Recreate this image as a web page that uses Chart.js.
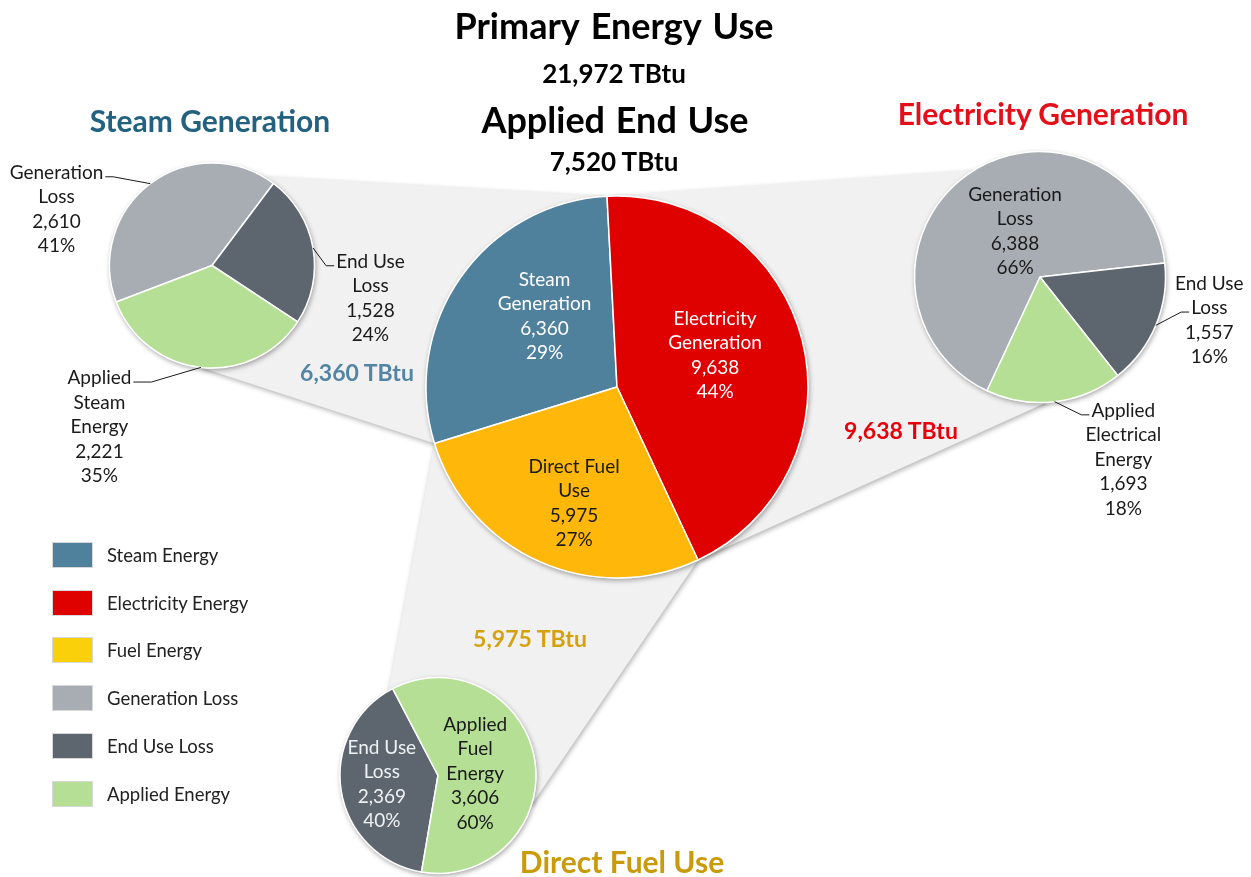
<!DOCTYPE html>
<html>
<head>
<meta charset="utf-8">
<script src="https://cdn.jsdelivr.net/npm/chart.js@4.4.1/dist/chart.umd.min.js"></script>
<style>
  html, body { margin: 0; padding: 0; background: #fff; }
  #wrap { position: relative; width: 1251px; height: 877px; overflow: hidden; font-family: Lato, 'Open Sans', sans-serif; }
  #wrap canvas { position: absolute; left: 0; top: 0; }
  .t { position: absolute; transform: translate(-50%, -50%); white-space: nowrap; font-weight: 700; line-height: 1; }
  #legend { position: absolute; left: 52px; top: 531px; }
  #legend .row { display: flex; align-items: center; height: 47.8px; }
  #legend .sw { width: 39px; height: 24px; border: 1px solid #d8d8d8; margin-right: 14px; }
  #legend .lb { font-size: 18.5px; color: #222; }
</style>
</head>
<body>
<div id="wrap">
  <canvas id="mainPie" width="1251" height="877"></canvas>
  <canvas id="steamPie" width="1251" height="877"></canvas>
  <canvas id="elecPie" width="1251" height="877"></canvas>
  <canvas id="fuelPie" width="1251" height="877"></canvas>

  <div class="t" style="left:614px; top:25px; font-size:36px; word-spacing:3px; color:#000;">Primary Energy Use</div>
  <div class="t" style="left:614px; top:73px; font-size:26px; color:#000;">21,972 TBtu</div>
  <div class="t" style="left:615px; top:119px; font-size:36px; word-spacing:2px; color:#000;">Applied End Use</div>
  <div class="t" style="left:614px; top:161px; font-size:26px; color:#000;">7,520 TBtu</div>

  <div class="t" style="left:210px; top:120px; font-size:30px; color:#22617f;">Steam Generation</div>
  <div class="t" style="left:1043px; top:113px; font-size:30px; color:#e3101a;">Electricity Generation</div>
  <div class="t" style="left:622px; top:861px; font-size:30px; color:#c99a0a;">Direct Fuel Use</div>

  <div class="t" id="steamTotal" style="left:357px; top:372px; font-size:23px; color:#5284a3;"></div>
  <div class="t" id="elecTotal" style="left:901px; top:430px; font-size:23px; color:#e8000b;"></div>
  <div class="t" id="fuelTotal" style="left:530px; top:638px; font-size:23px; color:#d4a20f;"></div>

  <div id="legend"></div>
</div>
<script>
const W = 1251, H = 877;

// Primary energy split (TBtu)
const mainLabels = [['Steam', 'Generation'], ['Electricity', 'Generation'], ['Direct Fuel', 'Use']];
const mainValues = [6360, 9638, 5975];

// Steam generation breakdown
const steamLabels = [['Generation', 'Loss'], ['End Use', 'Loss'], ['Applied', 'Steam', 'Energy']];
const steamValues = [2610, 1528, 2221];

// Electricity generation breakdown
const elecLabels = [['Generation', 'Loss'], ['End Use', 'Loss'], ['Applied', 'Electrical', 'Energy']];
const elecValues = [6388, 1557, 1693];

// Direct fuel breakdown
const fuelLabels = [['End Use', 'Loss'], ['Applied', 'Fuel', 'Energy']];
const fuelValues = [2369, 3606];

const legendLabels = ['Steam Energy', 'Electricity Energy', 'Fuel Energy', 'Generation Loss', 'End Use Loss', 'Applied Energy'];

const C = {
  steam: '#4f819d', elec: '#df0000', fuel: '#ffb70a', fuelLegend: '#fad00a',
  genLoss: '#a7adb3', endLoss: '#5d666e', applied: '#b4df94'
};
const legendColors = [C.steam, C.elec, C.fuelLegend, C.genLoss, C.endLoss, C.applied];

// pie placement (centre, radius, start rotation in degrees)
const geo = {
  main:  { cx: 617,  cy: 387,   r: 191,   rot: -107.2 },
  steam: { cx: 212,  cy: 265.5, r: 102.5, rot: -110.9 },
  elec:  { cx: 1040, cy: 277,   r: 125.5, rot: -155 },
  fuel:  { cx: 438,  cy: 775.5, r: 98,    rot: -170.3 }
};

// which small pie each main slice feeds, and where the band touches it (deg from top)
const links = [
  { to: 'steam', touch: [186.7, 29.4] },
  { to: 'elec',  touch: [-31.5, 176.8] },
  { to: 'fuel',  touch: [107.5, -30.4] }
];

const fmt = v => v.toLocaleString('en-US');
const rad = d => d * Math.PI / 180;

function onCircle(g, deg) {
  return [g.cx + g.r * Math.sin(rad(deg)), g.cy - g.r * Math.cos(rad(deg))];
}

// Grey bands from each main slice to its breakdown pie
const connectors = {
  id: 'connectors',
  beforeDatasetsDraw(chart) {
    const { ctx } = chart;
    const arcs = chart.getDatasetMeta(0).data;
    ctx.save();
    ctx.fillStyle = '#f1f1f1';
    ctx.shadowColor = 'rgba(0,0,0,0.3)';
    ctx.shadowBlur = 5;
    ctx.shadowOffsetX = 1;
    ctx.shadowOffsetY = 2;
    links.forEach((lk, i) => {
      const a = arcs[i];
      const g = geo[lk.to];
      const s = [a.x + a.outerRadius * Math.cos(a.startAngle), a.y + a.outerRadius * Math.sin(a.startAngle)];
      const e = [a.x + a.outerRadius * Math.cos(a.endAngle), a.y + a.outerRadius * Math.sin(a.endAngle)];
      const p1 = onCircle(g, lk.touch[0]);
      const p2 = onCircle(g, lk.touch[1]);
      ctx.beginPath();
      ctx.moveTo(s[0], s[1]);
      ctx.lineTo(p1[0], p1[1]);
      ctx.lineTo(p2[0], p2[1]);
      ctx.lineTo(e[0], e[1]);
      ctx.closePath();
      ctx.fill();
    });
    ctx.restore();
  }
};

// soft drop shadow under each pie
const pieShadow = {
  id: 'pieShadow',
  beforeDatasetsDraw(chart) {
    const { ctx } = chart;
    const a = chart.getDatasetMeta(0).data[0];
    ctx.save();
    ctx.beginPath();
    ctx.arc(a.x, a.y, a.outerRadius + 0.5, 0, Math.PI * 2);
    ctx.fillStyle = '#fff';
    ctx.shadowColor = 'rgba(0,0,0,0.35)';
    ctx.shadowBlur = 5;
    ctx.shadowOffsetX = 1;
    ctx.shadowOffsetY = 2;
    ctx.fill();
    ctx.restore();
  }
};

// name / value / percent labels, inside or outside with a leader line
const sliceLabels = {
  id: 'sliceLabels',
  afterDatasetsDraw(chart, args, opts) {
    const { ctx } = chart;
    const ds = chart.data.datasets[0];
    const total = ds.data.reduce((s, v) => s + v, 0);
    ctx.save();
    ctx.font = opts.font;
    ctx.textAlign = 'center';
    ctx.textBaseline = 'middle';
    chart.getDatasetMeta(0).data.forEach((arc, i) => {
      const spec = opts.items[i];
      const v = ds.data[i];
      const lines = [].concat(chart.data.labels[i], fmt(v), Math.round(v / total * 100) + '%');
      const { x, y, startAngle, endAngle, outerRadius: r } = arc;
      const mid = (startAngle + endAngle) / 2;
      let tx, ty;
      if (spec.f !== undefined) {
        const a = mid + rad(spec.da || 0);
        tx = x + Math.cos(a) * r * spec.f;
        ty = y + Math.sin(a) * r * spec.f;
      } else {
        tx = x + spec.dx * r;
        ty = y + spec.dy * r;
      }
      const lh = opts.lineHeight;
      const y0 = ty - (lines.length - 1) * lh / 2;
      ctx.fillStyle = spec.color;
      lines.forEach((s, k) => ctx.fillText(s, tx, y0 + k * lh));

      if (spec.f === undefined) {
        const ex = x + Math.cos(mid) * r, ey = y + Math.sin(mid) * r;
        const k = spec.anchor || 0;
        const w = ctx.measureText(lines[k]).width;
        const side = tx > x ? -1 : 1;
        const ax = tx + side * (w / 2 + 2);
        const ay = y0 + k * lh + 4;
        const bx = ax + side * (spec.tick || 8);
        ctx.strokeStyle = '#1a1a1a';
        ctx.lineWidth = 1;
        ctx.beginPath();
        ctx.moveTo(ex, ey);
        ctx.lineTo(bx, ay);
        ctx.lineTo(ax, ay);
        ctx.stroke();
      }
    });
    ctx.restore();
  }
};

function makePie(id, g, labels, values, colors, items) {
  return new Chart(document.getElementById(id), {
    type: 'pie',
    data: {
      labels,
      datasets: [{
        data: values,
        backgroundColor: colors,
        borderColor: '#ffffff',
        borderWidth: 1.5
      }]
    },
    options: {
      responsive: false,
      animation: false,
      events: [],
      radius: g.r,
      rotation: g.rot,
      layout: {
        padding: { left: g.cx - g.r, right: W - g.cx - g.r, top: g.cy - g.r, bottom: H - g.cy - g.r }
      },
      plugins: {
        legend: { display: false },
        tooltip: { enabled: false },
        sliceLabels: { font: "19px Lato, 'Open Sans', sans-serif", lineHeight: 24.5, items }
      }
    },
    plugins: id === 'mainPie' ? [connectors, pieShadow, sliceLabels] : [pieShadow, sliceLabels]
  });
}

const dark = '#1a1a1a';

makePie('mainPie', geo.main, mainLabels, mainValues, [C.steam, C.elec, C.fuel], [
  { f: 0.53, da: 9.4, color: '#ffffff' },
  { f: 0.54, da: -3.9, color: '#ffffff' },
  { f: 0.65, da: -3.6, color: dark }
]);

makePie('steamPie', geo.steam, steamLabels, steamValues, [C.genLoss, C.endLoss, C.applied], [
  { dx: -1.517, dy: -0.546, color: dark, anchor: 0 },
  { dx: 1.546, dy: 0.322, color: dark, anchor: 0 },
  { dx: -1.098, dy: 1.576, color: dark, anchor: 0, tick: 18 }
]);

makePie('elecPie', geo.elec, elecLabels, elecValues, [C.genLoss, C.endLoss, C.applied], [
  { f: 0.416, da: 7.1, color: dark },
  { dx: 1.349, dy: 0.345, color: dark, anchor: 1 },
  { dx: 0.664, dy: 1.457, color: dark, anchor: 0 }
]);

makePie('fuelPie', geo.fuel, fuelLabels, fuelValues, [C.endLoss, C.applied], [
  { f: 0.58, da: 0, color: '#eef2f4' },
  { f: 0.38, da: 6, color: dark }
]);

// totals next to the bands
document.getElementById('steamTotal').textContent = fmt(mainValues[0]) + ' TBtu';
document.getElementById('elecTotal').textContent = fmt(mainValues[1]) + ' TBtu';
document.getElementById('fuelTotal').textContent = fmt(mainValues[2]) + ' TBtu';

// legend
const legend = document.getElementById('legend');
legendLabels.forEach((name, i) => {
  const row = document.createElement('div');
  row.className = 'row';
  row.innerHTML = '<div class="sw" style="background:' + legendColors[i] + '"></div><div class="lb">' + name + '</div>';
  legend.appendChild(row);
});
</script>
</body>
</html>
